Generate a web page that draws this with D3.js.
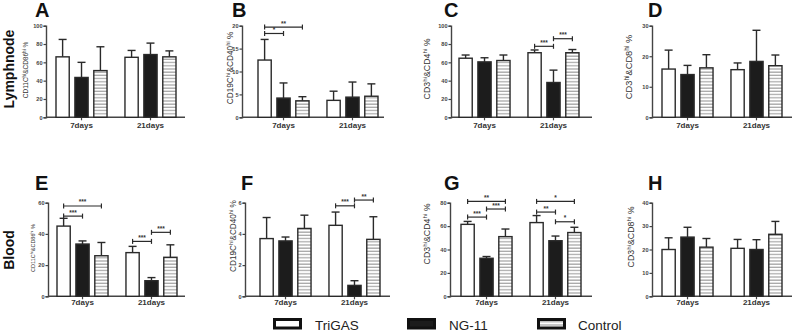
<!DOCTYPE html>
<html><head><meta charset="utf-8">
<script src="https://cdn.jsdelivr.net/npm/d3@7/dist/d3.min.js"></script>
<style>
html,body{margin:0;padding:0;background:#fff;}
svg{display:block;font-family:"Liberation Sans",Arial,sans-serif;}
</style></head>
<body><svg id="chart" width="794" height="333"></svg>
<script>
// ---------- data ----------
const groups = ["7days", "21days"];
const series = ["TriGAS", "NG-11", "Control"];
const panelLetters = ["A","B","C","D","E","F","G","H"];
const rowLabels = ["Lymphnode", "Blood"];
// y label parts: [main1, sup, main2, sup, tail]
const yLabelA = ["CD11C","hi","&CD86","hi"," %"];
const yLabelB = ["CD19C","hi","&CD40","hi"," %"];
const yLabelC = ["CD3","hi","&CD4","hi"," %"];
const yLabelD = ["CD3","hi","&CD8","hi"," %"];
const yMaxes = [100, 20, 100, 30, 60, 6, 80, 40];
const yTickSteps = [20, 5, 20, 10, 20, 2, 20, 10];

// means [group][series]
const meanA = [[66, 43.5, 51], [65.5, 68.5, 66]];
const meanB = [[12.5, 4.2, 3.6], [3.7, 4.4, 4.6]];
const meanC = [[64.5, 60.5, 62], [70.5, 38, 70.5]];
const meanD = [[15.8, 14, 16.2], [15.6, 18.3, 16.9]];
const meanE = [[45, 33.5, 26], [28, 10, 25]];
const meanF = [[3.7, 3.55, 4.35], [4.55, 0.7, 3.65]];
const meanG = [[61.5, 32.5, 51], [63, 47.5, 54.5]];
const meanH = [[20, 25.3, 21], [20.5, 20, 26.5]];
// upper error [group][series]
const errA = [[19, 16.5, 26], [7.5, 12.5, 6.5]];
const errB = [[4.5, 3.3, 0.9], [2.0, 3.3, 2.7]];
const errC = [[3.5, 4.5, 6], [3, 13.5, 3.5]];
const errD = [[6.2, 3, 4.3], [2.2, 10.2, 3.5]];
const errE = [[5, 2, 8.5], [4, 2, 8]];
const errF = [[1.35, 0.25, 0.85], [0.85, 0.3, 1.45]];
const errG = [[2.5, 1.5, 6.5], [6, 4, 4.5]];
const errH = [[5, 4.2, 3.7], [3.8, 4.2, 5.5]];
// significance: [group, fromSeries, toSeries, level, label]
const sigA = [];
const sigB = [[0,0,1,18.3,"*"], [0,0,2,19.7,"**"]];
const sigC = [[1,0,1,77.5,"***"], [1,1,2,85.8,"***"]];
const sigD = [];
const sigE = [[0,0,1,51.4,"***"], [0,0,2,57.9,"***"], [1,0,1,35.2,"***"], [1,1,2,41,"***"]];
const sigF = [[1,0,1,5.8,"***"], [1,1,2,6.17,"**"]];
const sigG = [[0,0,1,67.7,"***"], [0,1,2,74.6,"***"], [0,0,2,81.1,"**"],
              [1,0,1,72.0,"**"], [1,1,2,63.7,"*"], [1,0,2,81.1,"*"]];
const sigH = [];

const means = [meanA, meanB, meanC, meanD, meanE, meanF, meanG, meanH];
const errs = [errA, errB, errC, errD, errE, errF, errG, errH];
const sigs = [sigA, sigB, sigC, sigD, sigE, sigF, sigG, sigH];
const yLabels = [yLabelA, yLabelB, yLabelC, yLabelD, yLabelA, yLabelB, yLabelC, yLabelD];

// ---------- layout ----------
const rowsY = [{top: 25.7, bot: 117.3}, {top: 202.7, bot: 296.3}];
const layout = [
  {ax: 46, ae: 185, bs: 56, lx: 28, ly: 70, lfs: 6.5, px: 35},
  {ax: 242, ae: 384, bs: 258, lx: 233, ly: 68, lfs: 8.3, px: 232},
  {ax: 451, ae: 592, bs: 459, lx: 430, ly: 69, lfs: 8.8, px: 444},
  {ax: 652, ae: 792, bs: 662, lx: 632, ly: 67, lfs: 9.3, px: 648},
  {ax: 48, ae: 185, bs: 57, lx: 35, ly: 248, lfs: 5.5, px: 35},
  {ax: 245, ae: 390, bs: 260, lx: 236, ly: 236, lfs: 8.2, px: 241},
  {ax: 450, ae: 592, bs: 461, lx: 430, ly: 234, lfs: 8.8, px: 444},
  {ax: 652, ae: 792, bs: 662, lx: 634, ly: 237, lfs: 8.8, px: 648}
];

const svg = d3.select("#chart");
const defs = svg.append("defs");
const pat = defs.append("pattern").attr("id","stripes").attr("patternUnits","userSpaceOnUse")
  .attr("width", 6).attr("height", 3.2);
pat.append("rect").attr("width",6).attr("height",3.2).attr("fill","#fff");
pat.append("rect").attr("y",1.2).attr("width",6).attr("height",1.1).attr("fill","#9a9a9a");

const fills = ["#ffffff", "#1c1c1c", "url(#stripes)"];
const ink = "#2a2a2a";

layout.forEach((L, i) => {
  const row = i < 4 ? 0 : 1;
  const R = rowsY[row];
  const g = svg.append("g");
  const y = d3.scaleLinear().domain([0, yMaxes[i]]).range([R.bot, R.top]);
  const x0 = d3.scaleBand().domain(groups).range([L.bs, L.bs + 120]).paddingInner(0.26);
  const x1 = d3.scaleBand().domain(d3.range(series.length)).range([0, x0.bandwidth()]).paddingInner(0.3);

  // y axis
  const ticks = d3.range(0, yMaxes[i] + 1e-9, yTickSteps[i]);
  const yAxis = d3.axisLeft(y).tickValues(ticks).tickSize(2.5).tickPadding(1).tickFormat(d3.format("d"));
  const ya = g.append("g").attr("transform", `translate(${L.ax},0)`).call(yAxis);
  ya.select(".domain").attr("stroke", "#444").attr("stroke-width", 1.4);
  ya.selectAll(".tick line").attr("stroke", "#444").attr("stroke-width", 1.2);
  ya.selectAll(".tick text").attr("font-size", 5.6).attr("font-weight", "bold").attr("fill", "#444")
    .attr("font-family", "Liberation Sans, Arial, sans-serif");

  // x axis
  const xa = g.append("g").attr("transform", `translate(0,${R.bot})`);
  xa.append("line").attr("x1", L.ax).attr("x2", L.ae).attr("stroke", "#444").attr("stroke-width", 1.4);
  groups.forEach(gr => {
    const cx = x0(gr) + x0.bandwidth() / 2;
    xa.append("line").attr("x1", cx).attr("x2", cx).attr("y1", 0).attr("y2", 3)
      .attr("stroke", "#444").attr("stroke-width", 1.2);
    xa.append("text").attr("x", cx).attr("y", row === 0 ? 10.5 : 8.5).attr("text-anchor", "middle")
      .attr("font-size", 8).attr("font-weight", "bold").attr("fill", "#333").text(gr);
  });

  // bars + error bars
  groups.forEach((gr, gi) => {
    series.forEach((s, si) => {
      const v = means[i][gi][si];
      const e = errs[i][gi][si];
      const bx = x0(gr) + x1(si);
      const bw = x1.bandwidth();
      const cx = bx + bw / 2;
      g.append("line").attr("x1", cx).attr("x2", cx).attr("y1", y(v)).attr("y2", y(v + e))
        .attr("stroke", ink).attr("stroke-width", 1.4);
      g.append("line").attr("x1", cx - 4).attr("x2", cx + 4).attr("y1", y(v + e)).attr("y2", y(v + e))
        .attr("stroke", ink).attr("stroke-width", 1.4);
      g.append("rect").attr("x", bx).attr("y", y(v)).attr("width", bw).attr("height", R.bot - y(v))
        .attr("fill", fills[si]).attr("stroke", ink).attr("stroke-width", 1.4);
    });
  });

  // significance brackets
  sigs[i].forEach(([gi, a, b, lvl, lab]) => {
    const gr = groups[gi];
    const xa1 = x0(gr) + x1(a) + x1.bandwidth() / 2;
    const xb1 = x0(gr) + x1(b) + x1.bandwidth() / 2;
    const yy = y(lvl);
    g.append("line").attr("x1", xa1).attr("x2", xb1).attr("y1", yy).attr("y2", yy)
      .attr("stroke", ink).attr("stroke-width", 1.2);
    [xa1, xb1].forEach(xx => g.append("line").attr("x1", xx).attr("x2", xx)
      .attr("y1", yy - 2.5).attr("y2", yy + 2.5).attr("stroke", ink).attr("stroke-width", 1.2));
    g.append("text").attr("x", (xa1 + xb1) / 2).attr("y", yy - 1.5).attr("text-anchor", "middle")
      .attr("font-size", 6.5).attr("font-weight", "bold").attr("fill", "#333").text(lab);
  });

  // y label
  const lab = yLabels[i];
  const t = g.append("text").attr("transform", `translate(${L.lx},${L.ly}) rotate(-90)`)
    .attr("text-anchor", "middle").attr("font-size", L.lfs).attr("fill", "#333");
  t.append("tspan").text(lab[0]);
  t.append("tspan").attr("baseline-shift", "super").attr("font-size", L.lfs * 0.7).text(lab[1]);
  t.append("tspan").text(lab[2]);
  t.append("tspan").attr("baseline-shift", "super").attr("font-size", L.lfs * 0.7).text(lab[3]);
  t.append("tspan").text(lab[4]);

  // panel letter
  svg.append("text").attr("x", L.px).attr("y", row === 0 ? 17 : 190)
    .attr("font-size", 20).attr("font-weight", "bold").attr("fill", "#111").text(panelLetters[i]);
});

// row labels
[[69, rowLabels[0]], [250, rowLabels[1]]].forEach(([cy, txt]) => {
  svg.append("text").attr("transform", `translate(14,${cy}) rotate(-90)`).attr("text-anchor", "middle")
    .attr("font-size", 14).attr("font-weight", "bold").attr("fill", "#111").text(txt);
});

// legend
const legX = [273, 407, 537];
const legTextX = [315, 449, 578];
series.forEach((s, si) => {
  svg.append("rect").attr("x", legX[si] + 1.5).attr("y", 319.5).attr("width", 26).attr("height", 8.5)
    .attr("fill", fills[si]).attr("stroke", "#111").attr("stroke-width", 3);
  svg.append("text").attr("x", legTextX[si]).attr("y", 330).attr("font-size", 13.5).attr("fill", "#222").text(s);
});
</script></body></html>
